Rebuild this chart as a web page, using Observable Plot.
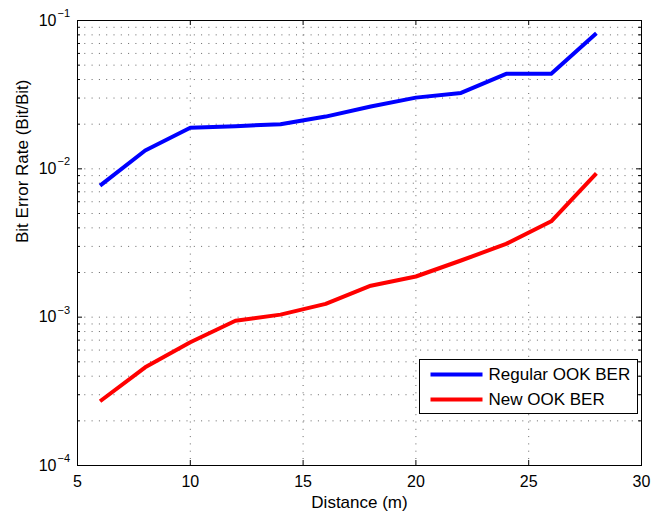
<!DOCTYPE html>
<html>
<head>
<meta charset="utf-8">
<script src="https://cdn.jsdelivr.net/npm/d3@7"></script>
<script src="https://cdn.jsdelivr.net/npm/@observablehq/plot@0.6"></script>
<style>
  html, body { margin: 0; padding: 0; background: #fff; }
  #chart svg { display: block; }
</style>
</head>
<body>
<div id="chart"></div>
<script>
// Data
const distance = [6, 8, 10, 12, 14, 16, 18, 20, 22, 24, 26, 28];
const regularBER = [0.0077, 0.0133, 0.0189, 0.0194, 0.0200, 0.0225, 0.0263, 0.0302, 0.0325, 0.0437, 0.0437, 0.082];
const newBER = [0.000271, 0.000459, 0.000678, 0.000945, 0.00104, 0.00123, 0.00163, 0.00188, 0.00241, 0.00312, 0.00443, 0.00933];
const seriesNames = ["Regular OOK BER", "New OOK BER"];
const seriesColors = ["#0000ff", "#ff0000"];

// Axis ticks
const xTicks = [5, 10, 15, 20, 25, 30];
const xGrid = [10, 15, 20, 25];
const yMajor = [1e-4, 1e-3, 1e-2, 1e-1];
const yExponents = ["\u22124", "\u22123", "\u22122", "\u22121"];
const yMinor = [];
for (const d of [1e-4, 1e-3, 1e-2]) for (const m of [2, 3, 4, 5, 6, 7, 8, 9]) yMinor.push(d * m);
const yAllGrid = [...yMajor, ...yMinor];

const xLabel = "Distance (m)";
const yLabel = "Bit Error Rate (Bit/Bit)";

const rows = [];
distance.forEach((x, i) => {
  rows.push({x, y: regularBER[i], s: seriesNames[0]});
});
distance.forEach((x, i) => {
  rows.push({x, y: newBER[i], s: seriesNames[1]});
});

const W = 652, H = 514;
const mL = 77, mR = 11, mT = 20, mB = 49;
const pw = W - mL - mR, ph = H - mT - mB;
const font = "'Liberation Sans', Arial, Helvetica, sans-serif";
const dots = "1,6.3";

// Legend geometry (pixels relative to frame)
const legL = 419 - mL, legR = 637, legT = 359 - mT, legB = 413;
const lineX1 = 430 - mL, lineX2 = 482;
const rowY = [374 - mT, 399 - mT];
const textX = 488 - mL;

const legendMarks = [
  Plot.frame({insetLeft: legL, insetRight: (mL + pw) - legR, insetTop: legT, insetBottom: (mT + ph) - legB, fill: "white", stroke: "black", strokeWidth: 1})
];
seriesNames.forEach((name, i) => {
  legendMarks.push(Plot.frame({
    insetLeft: lineX1, insetRight: (mL + pw) - lineX2,
    insetTop: rowY[i] - 2, insetBottom: ph - rowY[i] - 2,
    fill: seriesColors[i], stroke: "none"
  }));
  legendMarks.push(Plot.text([name], {
    frameAnchor: "top-left", dx: textX, dy: rowY[i], text: d => d,
    textAnchor: "start", lineAnchor: "middle", fontSize: 17, fill: "black"
  }));
});

const chart = Plot.plot({
  width: W,
  height: H,
  marginLeft: mL,
  marginRight: mR,
  marginTop: mT,
  marginBottom: mB,
  style: {fontFamily: font, fontSize: "16px", background: "white", color: "black"},
  x: {type: "linear", domain: [5, 30], axis: null},
  y: {type: "log", domain: [1e-4, 1e-1], axis: null},
  color: {domain: seriesNames, range: seriesColors},
  marks: [
    // dotted grid
    Plot.ruleY(yAllGrid, {stroke: "#000", strokeOpacity: 0.6, strokeDasharray: dots, strokeWidth: 1}),
    Plot.ruleX(xGrid, {stroke: "#000", strokeOpacity: 0.6, strokeDasharray: dots, strokeWidth: 1}),
    // inward ticks
    Plot.ruleY(yMajor, {insetRight: pw - 5, stroke: "black"}),
    Plot.ruleY(yMajor, {insetLeft: pw - 5, stroke: "black"}),
    Plot.ruleY(yMinor, {insetRight: pw - 3, stroke: "black"}),
    Plot.ruleY(yMinor, {insetLeft: pw - 3, stroke: "black"}),
    Plot.ruleX(xTicks, {insetTop: ph - 5, stroke: "black"}),
    Plot.ruleX(xTicks, {insetBottom: ph - 5, stroke: "black"}),
    // data lines
    Plot.line(rows, {x: "x", y: "y", z: "s", stroke: "s", strokeWidth: 4, strokeLinejoin: "round", strokeLinecap: "butt"}),
    // frame
    Plot.frame({stroke: "black", strokeWidth: 1}),
    // x tick labels
    Plot.text(xTicks, {x: d => d, frameAnchor: "bottom", dy: 16, lineAnchor: "middle", text: d => String(d), fontSize: 16, fill: "black"}),
    // y tick labels: base and superscript exponent
    Plot.text(yMajor, {y: d => d, frameAnchor: "left", dx: -21, textAnchor: "end", lineAnchor: "middle", text: () => "10", fontSize: 16, fill: "black"}),
    Plot.text(yMajor, {y: d => d, frameAnchor: "left", dx: -20, dy: -7, textAnchor: "start", lineAnchor: "middle", text: (d, i) => yExponents[i], fontSize: 11, fill: "black"}),
    // axis titles
    Plot.text([xLabel], {frameAnchor: "bottom", dy: 37, lineAnchor: "middle", text: d => d, fontSize: 17, fill: "black"}),
    Plot.text([yLabel], {frameAnchor: "left", dx: -55, rotate: -90, lineAnchor: "middle", text: d => d, fontSize: 17, fill: "black"}),
    ...legendMarks
  ]
});

document.getElementById("chart").appendChild(chart);
</script>
</body>
</html>
